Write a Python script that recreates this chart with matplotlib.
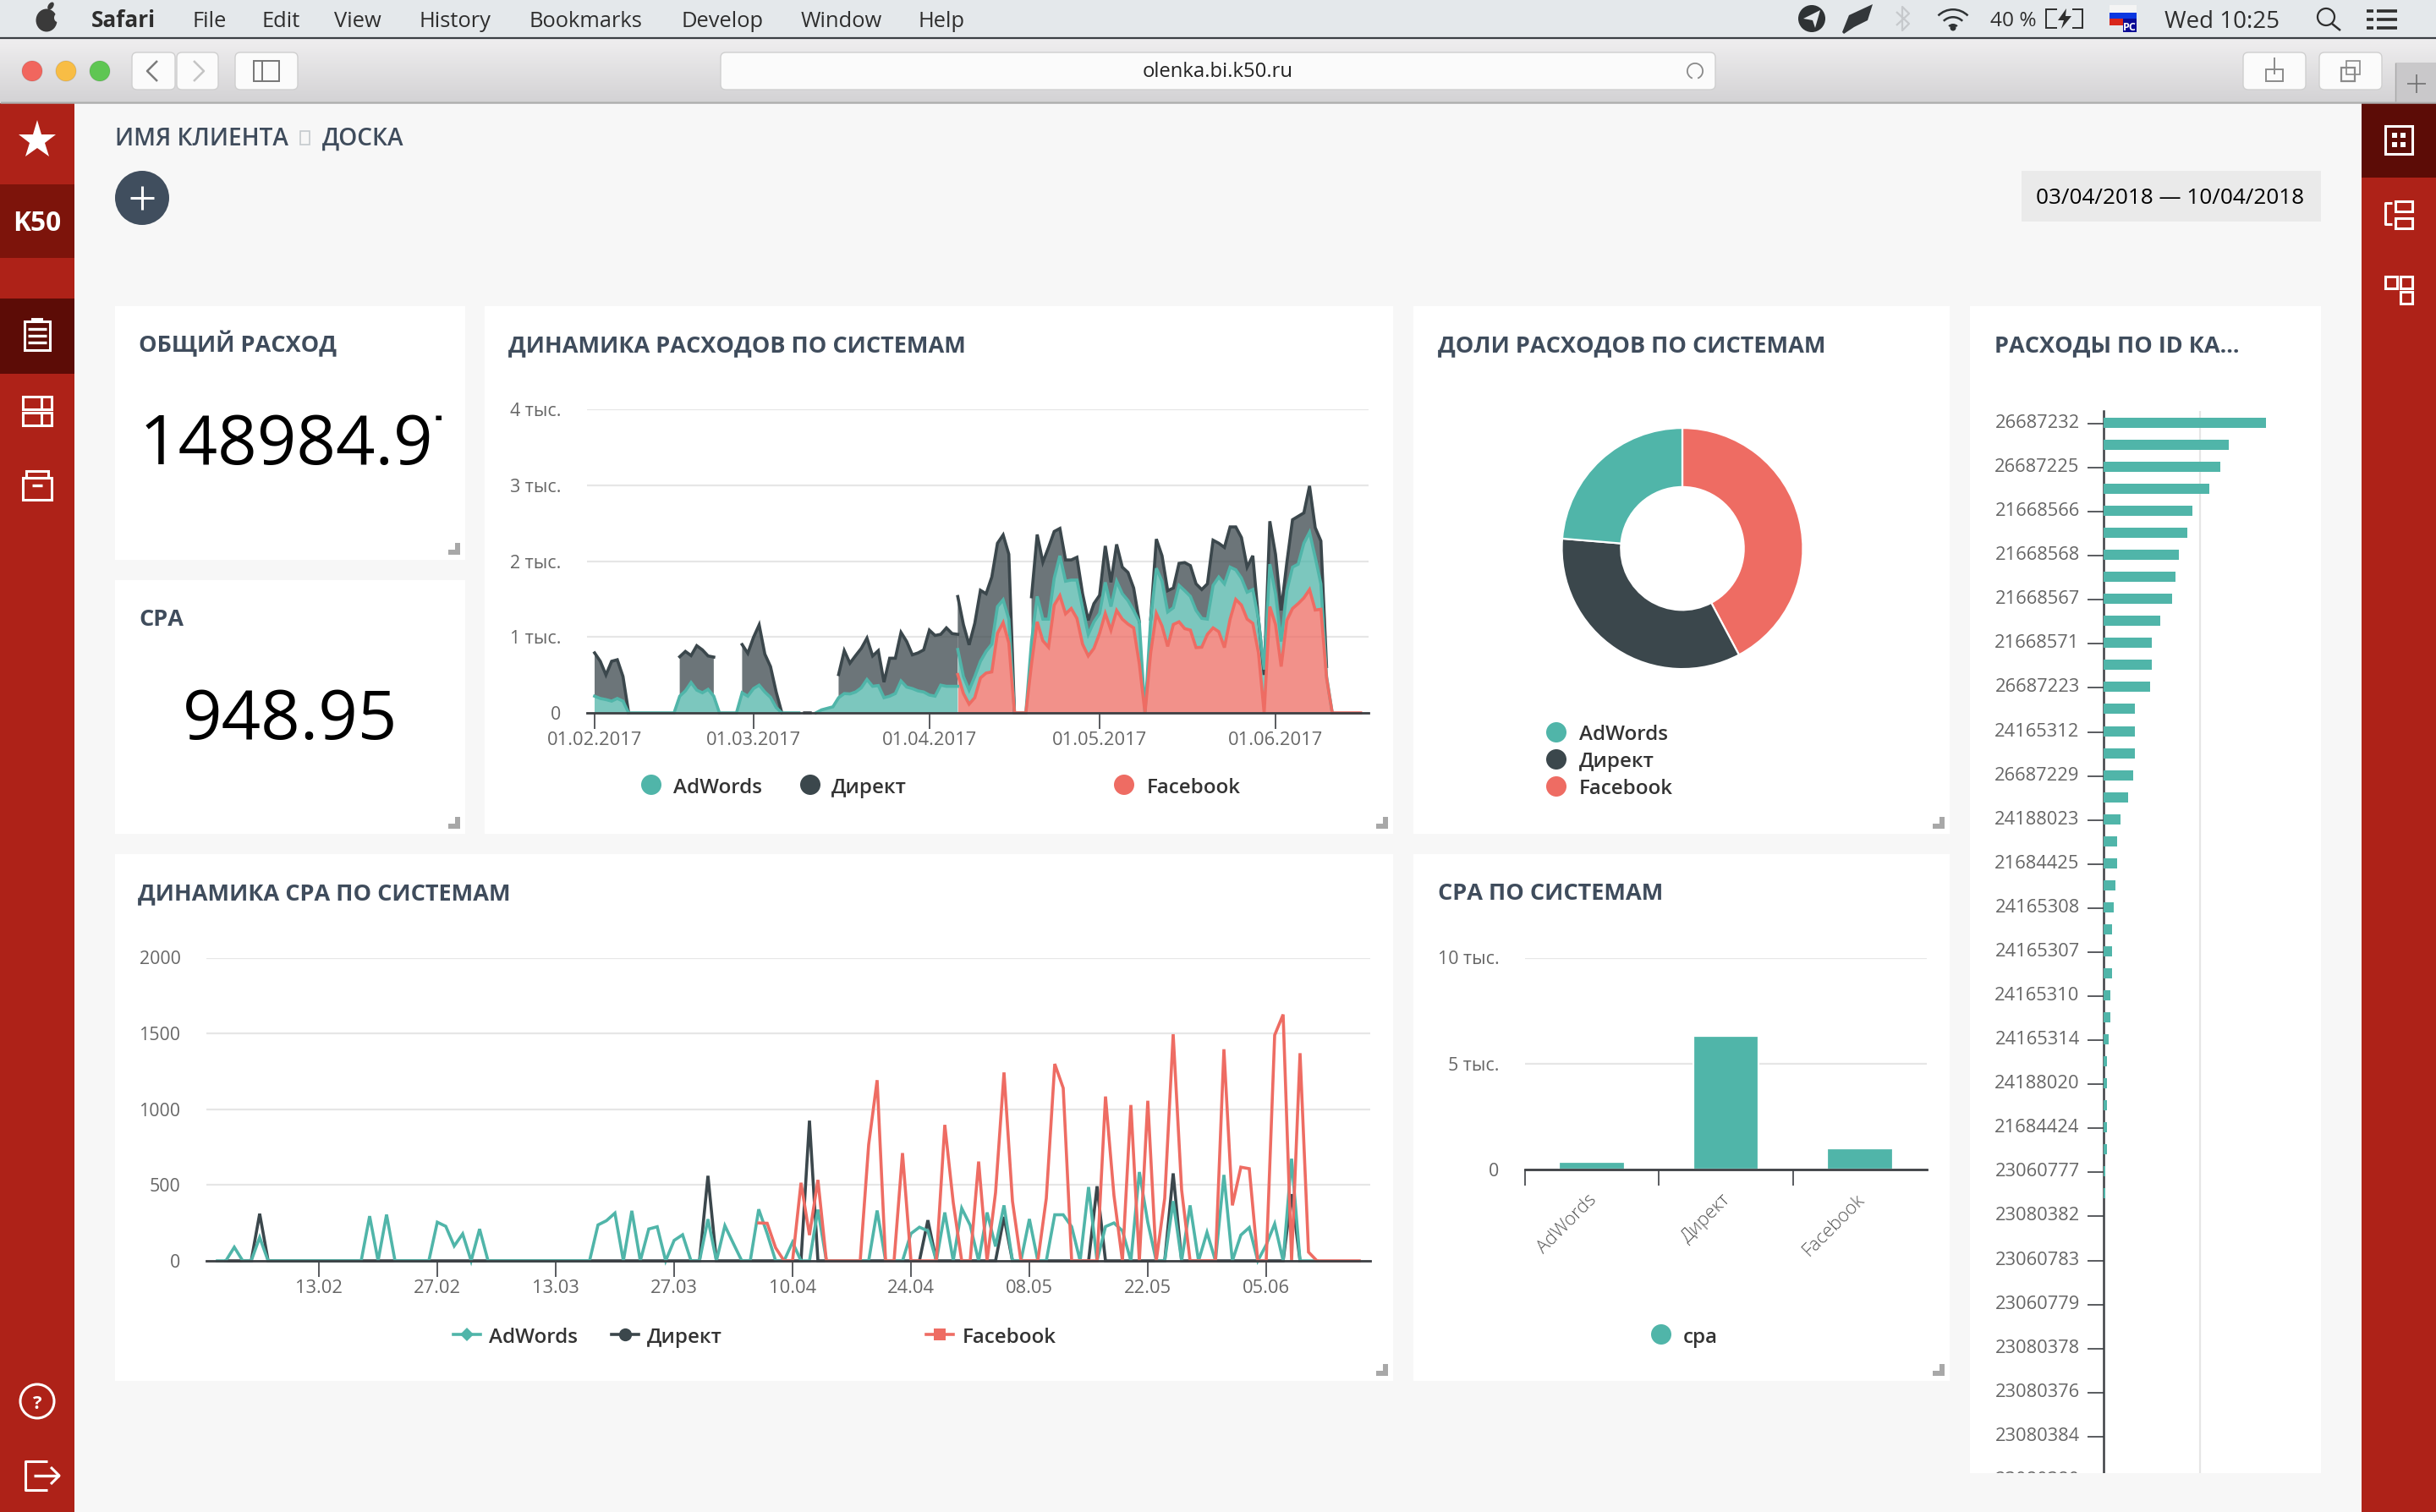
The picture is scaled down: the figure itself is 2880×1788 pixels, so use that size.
"""Dashboard screenshot: K50 spend charts inside a Safari window."""

import matplotlib
matplotlib.use("Agg")
import matplotlib.pyplot as plt
from matplotlib.patches import Rectangle, FancyBboxPatch, Circle, Ellipse, Polygon, Wedge
from matplotlib.transforms import ScaledTranslation
import numpy as np

n = np.nan

# ── Data ──────────────────────────────────────────────────────────────
# spend dynamics, stacked tops, days since 01.02.2017
adwords_top_early = [220, 190, 175, 155, 190, 155, 0, 0, 0, 0, 0, 0, 0, 0, 0,
                     220, 290, 400, 300, 265, 310, 220, 0, 0, 0, 0,
                     265, 220, 320, 365, 275, 205, 70, 0, 0, 0, 0, n, n,
                     0, 40, 60, 80, 200, 255, 250, 275, 330, 440, 350, 360, 200, 220, 255,
                     420, 340, 320, 290, 275, 235, 220, 365, 350, 350, 350]
direct_top_early = [790, 680, 500, 680, 700, 480, 0, n, n, n, n, n, n, n, n,
                    740, 810, 755, 885, 830, 750, 735, n, n, n, n,
                    900, 785, 995, 1160, 775, 610, 275, 0, n, n, n, 0, 0,
                    n, n, n, n, 505, 820, 655, 755, 850, 985, 750, 820, 405, 720, 720,
                    1060, 940, 765, 790, 830, 1090, 1020, 1035, 1120, 1045, 1035]
facebook_late = [505, 255, 115, 200, 460, 525, 540, 1050, 1190, 920, 0, 0, 0, 645, 1200, 950,
                 865, 1420, 1545, 1305, 1375, 1245, 905, 750, 850, 1050, 1310, 1090, 1350, 1235,
                 1170, 1120, 645, 0, 790, 1310, 1145, 875, 1165, 1200, 1110, 1090, 860, 865, 1035,
                 1120, 1070, 860, 1235, 1495, 1420, 1235, 1180, 790, 0, 1400, 1165, 610, 1220, 1375,
                 1440, 1515, 1625, 1355, 1365, 460, 0, 0, 0, 0, 0, 0]
adwords_top_late = [835, 478, 300, 478, 680, 810, 905, 1400, 1490, 1235, 0, 0, 0, 940, 1535, 1235,
                    1235, 1775, 2070, 1735, 1750, 1750, 1385, 1035, 1200, 1310, 1720, 1400, 1735, 1570,
                    1480, 1350, 1200, 0, 1235, 1905, 1735, 1330, 1385, 1680, 1610, 1535, 1350, 1245, 1235,
                    1680, 1790, 1700, 1920, 1885, 1775, 1590, 1625, 1235, 570, 1960, 1570, 940, 1610, 1920,
                    1960, 2235, 2380, 2050, 1700, 480, 0, n, n, n, n, n]
direct_top_late = [1533, 1163, 896, 1180, 1615, 1570, 1790, 2235, 2345, 2090, 0, n, n, 1530, 2350, 1985,
                   2180, 2390, 2430, 2015, 2015, 2050, 1570, 1220, 1440, 1550, 2200, 1720, 2220, 1920,
                   1850, 1645, 1200, n, 1235, 2290, 2070, 1610, 1645, 1970, 1980, 1940, 1700, 1625, 1700,
                   2275, 2235, 2180, 2450, 2450, 2310, 1920, 2070, 1235, 500, 2525, 2090, 1350, 1980, 2545,
                   2590, 2635, 2990, 2440, 2265, 610, n, n, n, n, n, n]
spend_ticks = [0, 28, 59, 89, 120]
spend_tick_labels = ["01.02.2017", "01.03.2017", "01.04.2017", "01.05.2017", "01.06.2017"]
spend_y_labels = ["0", "1 тыс.", "2 тыс.", "3 тыс.", "4 тыс."]

# cpa dynamics
cpa_adwords = [0, 0, 90, 0, 0, 155, 0, 0, 0, 0, 0, 0, 0, 0, 0, 0, 0, 0, 295, 0, 305, 0, 0, 0, 0, 0,
               255, 228, 98, 178, 0, 210, 0, 0, 0, 0, 0, 0, 0, 0, 0, 0, 0, 0, 0, 237, 265, 315, 0,
               330, 0, 210, 225, 0, 135, 172, 0, 0, 275, 0, 232, 115, 0, 0, 340, 180, 0, 0, 123, 0,
               0, 338, 0, 0, 0, 0, 0, 0, 332, 0, 0, 0, 180, 222, 198, 0, 319, 0, 347, 235, 0, 319,
               95, 366, 0, 0, 276, 0, 0, 304, 304, 225, 0, 487, 0, 226, 250, 198, 0, 586, 254, 0, 0,
               394, 0, 366, 0, 188, 0, 567, 0, 170, 220, 0, 105, 244, 0, 674, 0, 0, 0]
cpa_direct = [n, 0, 0, 0, 0, 311, 0, 0, 0, 0, 0, 0, 0, 0, 0, 0, 0, 0, 0, 0, 0, 0, 0, 0, 0, 0,
              0, 0, 0, 0, 0, 0, 0, 0, 0, 0, 0, 0, 0, 0, 0, 0, 0, 0, 0, 0, 0, 0, 0,
              0, 0, 0, 0, 0, 0, 0, 0, 0, 561, 0, 0, 0, 0, 0, 0, 0, 0, 0, 0, 0,
              925, 0, 0, 0, 0, 0, 0, 0, 0, 0, 0, 0, 0, 0, 268, 0, 0, 0, 0, 0, 0, 0,
              0, 290, 0, 0, 0, 0, 0, 0, 0, 0, 0, 0, 492, 0, 0, 0, 0, 0, 0, 0, 0,
              577, 0, 0, 0, 0, 0, 0, 0, 0, 0, 0, 0, 0, 0, 440, 0]
cpa_facebook = [n] * 64 + [250, 248, 86, 0, 0, 515, 170, 534, 0, 0, 0, 0, 0, 767, 1192, 0, 0, 711, 0, 0,
                           0, 0, 897, 384, 0, 0, 655, 0, 450, 1243, 394, 0, 0, 0, 412, 1299, 1140, 0,
                           0, 0, 0, 1084, 431, 0, 1028, 0, 1056, 0, 412, 1495, 468, 0, 0, 0, 0, 1396,
                           366, 618, 608, 0, 0, 1489, 1625, 0, 1370, 58, 0, 0, 0, 0, 0, 0]
cpa_ticks = [12, 26, 40, 54, 68, 82, 96, 110, 124]
cpa_tick_labels = ["13.02", "27.02", "13.03", "27.03", "10.04", "24.04", "08.05", "22.05", "05.06"]

# shares
share_names = ["Facebook", "Директ", "AdWords"]
share_values = [62900, 50800, 35300]

# cpa by system
systems = ["AdWords", "Директ", "Facebook"]
system_cpa = [344, 6300, 980]

# spend by campaign id
campaign_ids = ["26687232", "26687225", "21668566", "21668568", "21668567", "21668571", "26687223",
                "24165312", "26687229", "24188023", "21684425", "24165308", "24165307", "24165310",
                "24165314", "24188020", "21684424", "23060777", "23080382", "23060783", "23060779",
                "23080378", "23080376", "23080384", "23080380"]
campaign_spend = [16790, 12910, 12030, 10970, 9200, 8680, 7790, 7440, 7090, 5850, 4970, 4970, 4790,
                  3200, 3200, 3200, 3030, 2500, 1790, 1440, 1440, 1260, 1090, 910, 910, 910, 740, 740,
                  560, 380, 380, 380, 380, 380, 210, 210, 0, 0, 0, 0, 0, 0, 0, 0, 0, 0, 0, 0, 0]

# ── Style ─────────────────────────────────────────────────────────────
TEAL = "#50b5a9"
DARK = "#3b474c"
RED = "#ee6c63"
GRID = "#e6e6e6"
AXIS = "#3d4044"
TICK_TXT = "#666666"
TITLE = "#3f4c5c"
SIDE = "#ae2218"
SIDE_DK = "#5c0c06"
W, H = 2880, 1788
DPI = 200

plt.rcParams["font.family"] = ["Open Sans", "DejaVu Sans"]

fig = plt.figure(figsize=(W / DPI, H / DPI), dpi=DPI, facecolor="#f7f7f7")
bg = fig.add_axes([0, 0, 1, 1], zorder=0)
bg.set_xlim(0, W)
bg.set_ylim(H, 0)
bg.axis("off")


def box(x0, y0, x1, y1, color, **kw):
    bg.add_patch(Rectangle((x0, y0), x1 - x0, y1 - y0, facecolor=color, edgecolor="none", **kw))


def outline(x0, y0, x1, y1, color="white", lw=1.1):
    bg.add_patch(Rectangle((x0, y0), x1 - x0, y1 - y0, facecolor="none", edgecolor=color, linewidth=lw))


def seg(xs, ys, color="white", lw=1.1):
    bg.plot(xs, ys, color=color, linewidth=lw, solid_capstyle="butt")


def txt(x, y, s, size=8, color="#333333", weight=400, ha="left", va="baseline", **kw):
    return bg.text(x, y, s, fontsize=size, color=color, fontweight=weight, ha=ha, va=va, **kw)


def button(x0, x1):
    bg.add_patch(FancyBboxPatch((x0 + 6, 68), x1 - x0 - 12, 32, boxstyle="round,pad=6", facecolor="#fbfbfb",
                                edgecolor="#cfcfcf", linewidth=0.5))


def chart_axes(x0, y0, x1, y1):
    ax = fig.add_axes([x0 / W, 1 - y1 / H, (x1 - x0) / W, (y1 - y0) / H], zorder=2, facecolor="none")
    for name in ("top", "left", "right"):
        ax.spines[name].set_visible(False)
    ax.spines["bottom"].set_color(AXIS)
    ax.spines["bottom"].set_linewidth(1.0)
    ax.tick_params(axis="x", length=6.7, width=0.6, color=AXIS, labelsize=7.9, labelcolor=TICK_TXT, pad=1.3)
    ax.tick_params(axis="y", length=0, labelsize=7.7, labelcolor=TICK_TXT, pad=11)
    ax.set_axisbelow(True)
    ax.grid(axis="y", color=GRID, linewidth=0.8)
    return ax


# ── Window chrome ─────────────────────────────────────────────────────
box(0, 0, W, 44, "#e4e8eb")
seg([0, W], [45, 45], "#3b3f44", 0.8)
grad = np.linspace(0, 1, 64)[:, None]
bg.imshow(grad, extent=(0, W, 120, 46), cmap=matplotlib.colors.LinearSegmentedColormap.from_list("bar", ["#efeeef", "#d4d3d5"]),
          aspect="auto", zorder=1)
bg.set_xlim(0, W)
bg.set_ylim(H, 0)
seg([0, W], [121, 121], "#adadad", 0.9)

# menu bar
bg.add_patch(Ellipse((55, 24), 25, 27, facecolor="#3a3a3a", edgecolor="none"))
bg.add_patch(Ellipse((60, 7), 6, 10, angle=35, facecolor="#3a3a3a", edgecolor="none"))
bg.add_patch(Ellipse((68, 21), 8, 10, facecolor="#e4e8eb", edgecolor="none"))
txt(108, 32, "Safari", 9.4, "#2e2e2e", 700)
for x, label in zip([228, 309, 395, 495, 625, 805, 947, 1086],
                    ["File", "Edit", "View", "History", "Bookmarks", "Develop", "Window", "Help"]):
    txt(x, 32, label, 9.2, "#2e2e2e")
bg.add_patch(Circle((2142, 22), 16, facecolor="#2e3234", edgecolor="none"))
bg.add_patch(Polygon([[2132, 22], [2152, 12], [2146, 33], [2143, 24]], facecolor="#e4e8eb", edgecolor="none"))
bg.add_patch(Polygon([[2178, 38], [2186, 18], [2214, 5], [2208, 24], [2192, 32], [2180, 40]], facecolor="#33373a", edgecolor="none"))
seg([2242, 2257, 2249, 2249, 2257, 2242], [14, 28, 36, 8, 16, 30], "#c6c9cc", 0.8)
for r in [26, 17, 8]:
    bg.add_patch(Wedge((2309, 36), r, 225, 315, width=2.5, facecolor="#2e3234", edgecolor="none"))
bg.add_patch(Circle((2309, 33), 3.5, facecolor="#2e3234", edgecolor="none"))
txt(2353, 31, "40 %", 8.8, "#2e2e2e")
outline(2419, 11, 2462, 33, "#2e2e2e", 0.7)
box(2432, 8, 2450, 36, "#e4e8eb")
bg.add_patch(Polygon([[2443, 10], [2433, 24], [2440, 24], [2437, 34], [2449, 19], [2442, 19]], facecolor="#2e2e2e", edgecolor="none"))
box(2494, 6, 2526, 15, "#f4f4f4")
box(2494, 15, 2526, 22, "#0b37e0")
box(2494, 22, 2510, 30, "#d9261b")
box(2510, 22, 2526, 38, "#0b0b96")
txt(2518, 36, "PC", 4.5, "white", 700, ha="center")
txt(2559, 33, "Wed 10:25", 10, "#2e2e2e")
bg.add_patch(Circle((2750, 20), 10, facecolor="none", edgecolor="#2e2e2e", linewidth=0.8))
seg([2757, 2767], [28, 36], "#2e2e2e", 0.9)
for y in (15, 25, 35):
    seg([2798, 2806], [y - 2, y - 2], "#2e2e2e", 1.3)
    seg([2810, 2834], [y - 2, y - 2], "#2e2e2e", 1.3)

# toolbar
for cx, color in zip([38, 78, 118], ["#f1665e", "#f8bd45", "#5fc653"]):
    bg.add_patch(Circle((cx, 84), 12, facecolor=color, edgecolor="#00000018", linewidth=0.4, zorder=3))
for x0, x1 in [(156, 207), (209, 258), (278, 352), (852, 2028), (2652, 2726), (2742, 2816)]:
    button(x0, x1)
seg([186, 174, 186], [72, 84, 96], "#7b7b7b", 0.9)
seg([229, 241, 229], [72, 84, 96], "#c4c4c4", 0.9)
outline(300, 72, 330, 96, "#767676", 0.7)
seg([310, 310], [72, 96], "#767676", 0.7)
txt(1440, 91, "olenka.bi.k50.ru", 8.6, "#222222", ha="center")
bg.add_patch(Wedge((2004, 84), 10, -250, 70, width=1.8, facecolor="#8a8a8a", edgecolor="none"))
outline(2679, 82, 2699, 96, "#8a8a8a", 0.7)
seg([2689, 2689], [68, 88], "#8a8a8a", 0.7)
outline(2768, 80, 2784, 96, "#8a8a8a", 0.8)
outline(2774, 72, 2790, 88, "#8a8a8a", 0.6)
box(2833, 74, W, 120, "#c9c8ca")
seg([2832, 2832], [74, 120], "#a8a8a8", 0.5)
seg([2857, 2857], [88, 110], "#707070", 0.6)
seg([2846, 2868], [99, 99], "#707070", 0.6)

# sidebars
box(0, 122, 88, H, SIDE)
box(0, 218, 88, 305, "#7d140b")
box(0, 353, 88, 442, SIDE_DK)
bg.plot([44], [166], marker="*", markersize=17, color="white", markeredgewidth=0)
txt(44, 273, "K50", 11.4, "white", 700, ha="center")
outline(29, 380, 59, 414)
seg([33, 55], [389, 389], lw=1.2)
seg([33, 55], [397, 397], lw=1.2)
seg([33, 55], [405, 405], lw=1.2)
seg([37, 51], [378, 378], lw=1.4)
outline(27, 469, 61, 484)
outline(27, 488, 61, 503)
seg([49, 49], [469, 484])
seg([49, 49], [488, 503])
outline(27, 565, 61, 591)
outline(31, 557, 57, 565)
seg([38, 50], [574, 574], lw=1.2)
bg.add_patch(Circle((44, 1657), 20, facecolor="none", edgecolor="white", linewidth=1.1))
txt(44, 1666, "?", 8, "white", 700, ha="center")
seg([56, 30, 30, 56], [1728, 1728, 1762, 1762])
seg([40, 70], [1745, 1745], lw=1.2)
seg([60, 70, 60], [1735, 1745, 1755], lw=1.1)

box(2792, 122, W, H, SIDE)
box(2792, 122, W, 210, SIDE_DK)
outline(2820, 149, 2852, 182)
for cx in (2831, 2841):
    for cy in (160, 171):
        box(cx - 3, cy - 3, cx + 3, cy + 3, "white")
seg([2828, 2820, 2820, 2828], [240, 240, 265, 265])
outline(2832, 238, 2852, 250)
outline(2832, 258, 2852, 270)
outline(2820, 327, 2834, 341)
outline(2838, 327, 2852, 341)
outline(2838, 345, 2852, 359)

# page header
txt(136, 172, "ИМЯ КЛИЕНТА", 10.1, TITLE, 600)
outline(355, 155, 366, 171, "#c5cace", 0.6)
txt(381, 172, "ДОСКА", 10.1, TITLE, 600)
bg.add_patch(Circle((168, 234), 32, facecolor="#404e5e", edgecolor="none"))
seg([168, 168], [220, 248], lw=1.1)
seg([154, 182], [234, 234], lw=1.1)
box(2390, 202, 2744, 262, "#eaeaea")
txt(2566, 241, "03/04/2018 — 10/04/2018", 9.4, "black", ha="center")

# ── Cards ─────────────────────────────────────────────────────────────
cards = [(136, 362, 550, 662), (136, 686, 550, 986), (573, 362, 1647, 986), (1671, 362, 2305, 986),
         (136, 1010, 1647, 1633), (1671, 1010, 2305, 1633)]
for x0, y0, x1, y1 in cards:
    box(x0, y0, x1, y1, "white")
    box(x1 - 12, y1 - 20, x1 - 6, y1 - 6, "#a8a8a8")
    box(x1 - 20, y1 - 12, x1 - 6, y1 - 6, "#a8a8a8")
box(2329, 362, 2744, 1742, "white")

for x, y, s in [(164, 416, "ОБЩИЙ РАСХОД"), (164, 740, "СРА"), (601, 416, "ДИНАМИКА РАСХОДОВ ПО СИСТЕМАМ"),
                (1700, 416, "ДОЛИ РАСХОДОВ ПО СИСТЕМАМ"), (2358, 416, "РАСХОДЫ ПО ID КА..."),
                (163, 1064, "ДИНАМИКА СРА ПО СИСТЕМАМ"), (1700, 1064, "СРА ПО СИСТЕМАМ")]:
    txt(x, y, s, 9.75, TITLE, 700)

big = txt(165, 549, "148984.97", 29.3, "black")
big.set_clip_on(True)
big.set_clip_path(Rectangle((160, 470), 362, 100, transform=bg.transData))
txt(343, 874, "948.95", 29.3, "black", ha="center")

# ── Spend dynamics ────────────────────────────────────────────────────
ax = chart_axes(694, 484, 1618, 843)
days_early = np.arange(len(adwords_top_early))
days_late = np.arange(len(facebook_late)) + 64
ax.fill_between(days_early, adwords_top_early, direct_top_early, color=DARK, alpha=0.75, linewidth=0)
ax.fill_between(days_early, 0, adwords_top_early, color=TEAL, alpha=0.75, linewidth=0)
ax.fill_between(days_late, adwords_top_late, direct_top_late, color=DARK, alpha=0.75, linewidth=0)
ax.fill_between(days_late, facebook_late, adwords_top_late, color=TEAL, alpha=0.75, linewidth=0)
ax.fill_between(days_late, 0, facebook_late, color=RED, alpha=0.75, linewidth=0)
for days, tops, color in [(days_early, direct_top_early, DARK), (days_late, direct_top_late, DARK),
                          (days_early, adwords_top_early, TEAL), (days_late, adwords_top_late, TEAL),
                          (days_late, facebook_late, RED)]:
    ax.plot(days, tops, color=color, linewidth=1.3, solid_joinstyle="miter", clip_on=False)
ax.set_xlim(-1.34, 136.4)
ax.set_ylim(0, 4000)
ax.set_xticks(spend_ticks)
ax.set_xticklabels(spend_tick_labels)
ax.set_yticks(range(0, 5000, 1000))
ax.set_yticklabels(spend_y_labels)
for cx, tx, color, label in [(770, 796, TEAL, "AdWords"), (958, 983, DARK, "Директ"), (1329, 1356, RED, "Facebook")]:
    bg.add_patch(Circle((cx, 928), 12, facecolor=color, edgecolor="none"))
    txt(tx, 938, label, 8.7, "#333333", 600)

# ── Shares donut ──────────────────────────────────────────────────────
ax = fig.add_axes([(1989 - 150) / W, 1 - (648.6 + 150) / H, 300 / W, 300 / H], zorder=2)
ax.pie(share_values, colors=[RED, DARK, TEAL], startangle=90, counterclock=False, radius=1,
       wedgeprops={"width": 0.49, "edgecolor": "white", "linewidth": 0.8})
ax.set_xlim(-150 / 142.5, 150 / 142.5)
ax.set_ylim(-150 / 142.5, 150 / 142.5)
for y, color, label in [(866, TEAL, "AdWords"), (898, DARK, "Директ"), (930, RED, "Facebook")]:
    bg.add_patch(Circle((1840, y), 12, facecolor=color, edgecolor="none"))
    txt(1867, y + 9, label, 8.7, "#333333", 600)

# ── CPA dynamics ──────────────────────────────────────────────────────
ax = chart_axes(244, 1132.5, 1620, 1491)
for values, color in [(cpa_direct, DARK), (cpa_adwords, TEAL), (cpa_facebook, RED)]:
    ax.plot(np.arange(len(values)), values, color=color, linewidth=1.3, solid_joinstyle="miter", clip_on=False)
ax.set_xlim(-1.3, 136.3)
ax.set_ylim(0, 2000)
ax.set_xticks(cpa_ticks)
ax.set_xticklabels(cpa_tick_labels)
ax.set_yticks(range(0, 2500, 500))
for x0, mx, tx, color, marker, ms, label in [(536, 552, 578, TEAL, "D", 4, "AdWords"), (723, 739, 765, DARK, "o", 5.5, "Директ"),
                                             (1095, 1111, 1138, RED, "s", 5, "Facebook")]:
    bg.plot([x0, x0 + 32], [1578, 1578], color=color, linewidth=1.3)
    bg.plot([mx], [1578], marker=marker, markersize=ms, color=color, markeredgewidth=0)
    txt(tx, 1588, label, 8.7, "#333333", 600)

# ── CPA by system ─────────────────────────────────────────────────────
ax = chart_axes(1803, 1132.5, 2278, 1383)
positions = np.arange(len(systems)) + 0.5
ax.bar(positions, system_cpa, width=0.49, color=TEAL, edgecolor="white", linewidth=0.8, zorder=2)
ax.set_xlim(0, 3)
ax.set_ylim(0, 10000)
ax.set_xticks(range(len(systems)))
ax.set_xticklabels([])
ax.set_yticks([0, 5000, 10000])
ax.set_yticklabels(["0", "5 тыс.", "10 тыс."])
for p, label in zip(positions, systems):
    ax.annotate(label, (p, 0), xytext=(-1.8, -9), textcoords="offset points", rotation=45, ha="right", va="top",
                rotation_mode="anchor", fontsize=7.9, color="#555555", fontweight=300, annotation_clip=False)
bg.add_patch(Circle((1964, 1578), 12, facecolor=TEAL, edgecolor="none"))
txt(1990, 1588, "cpa", 8.7, "#333333", 600)

# ── Spend by campaign ─────────────────────────────────────────────────
ax = chart_axes(2487, 486, 2730, 1770)
rows = np.arange(len(campaign_spend))
ax.barh(rows - 0.04, campaign_spend, height=0.46, color=TEAL, edgecolor="none", zorder=3)
ax.set_xlim(0, 10000 * 243 / 114.3)
ax.set_ylim((1770 - 501) / 26.04, (486 - 501) / 26.04)
ax.spines["bottom"].set_visible(False)
ax.spines["left"].set_visible(True)
ax.spines["left"].set_color(AXIS)
ax.spines["left"].set_linewidth(0.9)
ax.grid(axis="y", visible=False)
ax.grid(axis="x", color=GRID, linewidth=0.8)
ax.set_xticks([10000])
ax.tick_params(axis="x", length=0, labelbottom=False)
ax.set_yticks(rows[::2][:len(campaign_ids)])
ax.set_yticklabels(campaign_ids)
ax.tick_params(axis="y", length=6.7, width=0.6, color=AXIS, labelsize=7.9, pad=3.5)
nudge = ScaledTranslation(0, 3 / DPI, fig.dpi_scale_trans)
for label in ax.get_yticklabels():
    label.set_transform(label.get_transform() + nudge)
fig.add_artist(Rectangle((2320 / W, 0), 430 / W, (H - 1742) / H, transform=fig.transFigure, facecolor="#f7f7f7",
                         edgecolor="none", zorder=5))

fig.savefig("out.png", dpi=DPI, facecolor=fig.get_facecolor())
